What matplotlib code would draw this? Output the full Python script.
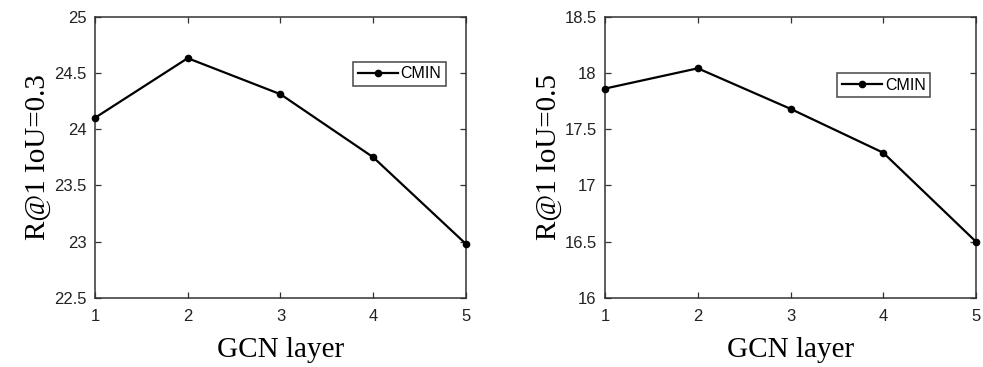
import matplotlib.pyplot as plt

layers = [1, 2, 3, 4, 5]
iou03 = [24.10, 24.63, 24.31, 23.75, 22.98]
iou05 = [17.86, 18.04, 17.68, 17.29, 16.50]

sans = ['Liberation Sans', 'DejaVu Sans']
serif = ['Liberation Serif', 'DejaVu Serif']

fig = plt.figure(figsize=(9.83, 3.67), dpi=100)
ax1 = fig.add_axes([0.0966, 0.188, 0.3774, 0.767])
ax2 = fig.add_axes([0.6155, 0.188, 0.3774, 0.767])

panels = [
    (ax1, iou03, 'R@1 IoU=0.3', (22.5, 25), [22.5, 23, 23.5, 24, 24.5, 25], (0.695, 0.84)),
    (ax2, iou05, 'R@1 IoU=0.5', (16, 18.5), [16, 16.5, 17, 17.5, 18, 18.5], (0.625, 0.80)),
]

for ax, vals, ylab, ylim, yt, legpos in panels:
    ax.plot(layers, vals, color='black', lw=1.6, marker='o', ms=4.5, label='CMIN',
            clip_on=False, zorder=3)
    ax.set_xlim(1, 5)
    ax.set_ylim(*ylim)
    ax.set_xticks(layers)
    ax.set_yticks(yt)
    ax.set_yticklabels([('%g' % v) for v in yt], family=sans, fontsize=12, color='#222222')
    ax.set_xticklabels([str(v) for v in layers], family=sans, fontsize=12, color='#222222')
    ax.tick_params(direction='in', top=True, right=True, length=4, width=0.9,
                   color='#333333')
    ax.tick_params(axis='x', pad=8)
    ax.tick_params(axis='y', pad=6)
    for s in ax.spines.values():
        s.set_color('#333333')
        s.set_linewidth(1.1)
    ax.set_ylabel(ylab, family=serif, fontsize=21, labelpad=2)
    ax.set_xlabel('GCN layer', family=serif, fontsize=21, labelpad=9)
    leg = ax.legend(loc='upper left', bbox_to_anchor=legpos, fancybox=False,
                    edgecolor='#555555', framealpha=1, borderpad=0.3,
                    handlelength=2.5, handletextpad=0.2, borderaxespad=0,
                    prop={'family': sans, 'size': 11.5})
    leg.get_frame().set_linewidth(1.2)

fig.savefig('out.png', dpi=100)
